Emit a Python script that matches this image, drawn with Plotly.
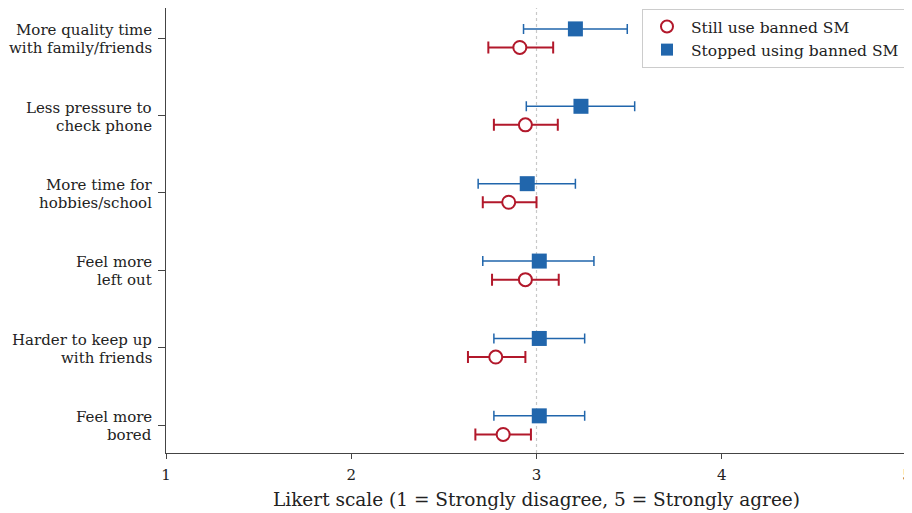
import plotly.graph_objects as go

categories = ["More quality time<br>with family/friends", "Less pressure to<br>check phone",
              "More time for<br>hobbies/school", "Feel more<br>left out",
              "Harder to keep up<br>with friends", "Feel more<br>bored"]
still_mean = [2.91, 2.94, 2.85, 2.94, 2.78, 2.82]
still_lo = [2.74, 2.77, 2.71, 2.76, 2.63, 2.67]
still_hi = [3.09, 3.115, 3.00, 3.12, 2.94, 2.97]
stop_mean = [3.21, 3.24, 2.95, 3.015, 3.015, 3.015]
stop_lo = [2.93, 2.945, 2.685, 2.71, 2.77, 2.77]
stop_hi = [3.49, 3.53, 3.21, 3.31, 3.26, 3.26]
x_ticks = [1, 2, 3, 4, 5]

RED = "#b2182b"
BLUE = "#2166ac"
FONT = "DejaVu Serif"

n = len(categories)
ypos = [n - 1 - i for i in range(n)]
off = 0.12

fig = go.Figure()
fig.add_trace(go.Scatter(
    x=stop_mean, y=[y + off for y in ypos], mode="markers",
    name="Stopped using banned SM",
    marker=dict(symbol="square", size=15, color=BLUE, line=dict(width=0)),
    error_x=dict(type="data", symmetric=False,
                 array=[h - m for h, m in zip(stop_hi, stop_mean)],
                 arrayminus=[m - l for m, l in zip(stop_mean, stop_lo)],
                 color=BLUE, thickness=1.5, width=5),
))
fig.add_trace(go.Scatter(
    x=still_mean, y=[y - off for y in ypos], mode="markers",
    name="Still use banned SM",
    marker=dict(symbol="circle", size=13, color="white", line=dict(width=2, color=RED)),
    error_x=dict(type="data", symmetric=False,
                 array=[h - m for h, m in zip(still_hi, still_mean)],
                 arrayminus=[m - l for m, l in zip(still_mean, still_lo)],
                 color=RED, thickness=2, width=6),
))

fig.add_shape(type="line", x0=3, x1=3, y0=0, y1=1, xref="x", yref="paper",
              line=dict(color="#c8c8c8", width=1.2, dash="dot"), layer="below")

# category labels (two lines each, tighter line spacing than plotly's tick labels)
annotations = []
for label, y in zip(categories, ypos):
    lines = label.split("<br>")
    shifts = [8, -10] if len(lines) == 2 else [0]
    for line, s in zip(lines, shifts):
        annotations.append(dict(text=line, x=0, xref="paper", y=y, yref="y",
                                xanchor="right", yanchor="middle", xshift=-12, yshift=s,
                                showarrow=False, font=dict(family=FONT, size=15, color="#222")))

fig.update_layout(
    width=904, height=505,
    margin=dict(l=158, r=5, t=0, b=60, autoexpand=False),
    paper_bgcolor="white", plot_bgcolor="white",
    font=dict(family=FONT, size=15, color="#222"),
    showlegend=True,
    annotations=annotations,
    legend=dict(x=0.9973, y=0.998, xanchor="right", yanchor="top",
                bordercolor="#cccccc", borderwidth=1, bgcolor="white",
                traceorder="reversed", font=dict(family=FONT, size=15.5),
                itemsizing="constant", itemwidth=38),
    xaxis=dict(range=[1, 5], tickvals=x_ticks, ticktext=[str(t) for t in x_ticks],
               showgrid=False, zeroline=False, showline=True, linecolor="#444",
               linewidth=1.2, ticks="outside", ticklen=5, tickcolor="#444",
               tickfont=dict(family=FONT, size=15), ticklabelstandoff=3,
               ticklabeloverflow="allow", automargin=False,
               title=dict(text="Likert scale (1 = Strongly disagree, 5 = Strongly agree)",
                          font=dict(family=FONT, size=18.5), standoff=9)),
    yaxis=dict(range=[-0.36, n - 1 + 0.39], tickvals=ypos, showticklabels=False,
               automargin=False,
               showgrid=False, zeroline=False, showline=True, linecolor="#444",
               linewidth=1.2, ticks="outside", ticklen=7, tickcolor="#444"),
)

fig.write_html("out.html")
